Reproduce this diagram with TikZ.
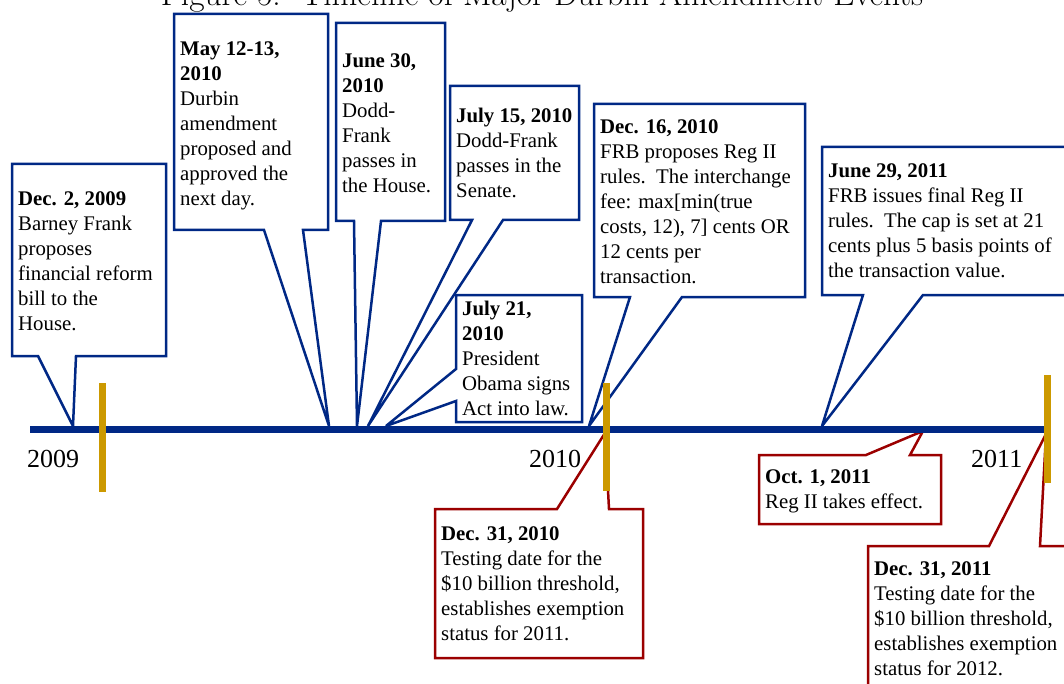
\documentclass[tikz,border=0pt]{standalone}
\usepackage{fontspec}
\newfontfamily\serifA{Liberation Serif}
\definecolor{tlblue}{RGB}{0,40,133}
\definecolor{tlred}{RGB}{155,0,0}
\definecolor{tlgold}{RGB}{204,153,0}
\newcommand{\calfont}{\serifA\fontsize{20.8}{25}\selectfont}
\newcommand{\yrfont}{\serifA\fontsize{26}{30}\selectfont}
\tikzset{
  bluecall/.style={draw=tlblue, line width=2.5pt, fill=white, miter limit=4},
  redcall/.style={draw=tlred, line width=2.5pt, fill=white, miter limit=4},
  calltext/.style={anchor=north west, inner sep=0pt, align=left, font=\calfont},
  yeartext/.style={anchor=base west, inner sep=0pt, font=\yrfont},
  axisline/.style={draw=tlblue, line width=7pt},
  yeartick/.style={draw=tlgold, line width=7pt},
}
\begin{document}
\begin{tikzpicture}[x=1pt,y=-1pt]
\useasboundingbox (0,0) rectangle (1064,684);
\clip (0,0) rectangle (1064,684);

% title
\node[anchor=base, inner sep=0pt] (title) at (542,6) {\fontsize{33.4}{38}\selectfont Figure 5:\ \ Timeline of Major Durbin Amendment Events};

% pointer tips on the timeline
\coordinate (p1) at (73,426);
\coordinate (p2) at (329,426);
\coordinate (p3) at (357,426);
\coordinate (p4) at (368,426);
\coordinate (p5) at (386,426);
\coordinate (p6) at (589,426);
\coordinate (p7) at (822,426);
\coordinate (q1) at (605,433);
\coordinate (q2) at (923,431);
\coordinate (q3) at (1046,434);

% blue callouts (above the line)
\path[bluecall] (12,164) -- (166,164) -- (166,356) -- (76,356) -- (p1) -- (38,356) -- (12,356) -- cycle;
\path[bluecall] (174,14) -- (328,14) -- (328,230) -- (303,230) -- (p2) -- (264,230) -- (174,230) -- cycle;
\path[bluecall] (336,23) -- (445,23) -- (445,221) -- (381,221) -- (p3) -- (354,221) -- (336,221) -- cycle;
\path[bluecall] (450,86) -- (579,86) -- (579,220) -- (503,220) -- (p4) -- (472,220) -- (450,220) -- cycle;
\path[bluecall] (456,295) -- (582,295) -- (582,422) -- (456,422) -- (456,401) -- (p5) -- (456,369) -- cycle;
\path[bluecall] (594,104) -- (805,104) -- (805,297) -- (682,297) -- (p6) -- (630,297) -- (594,297) -- cycle;
\path[bluecall] (822,147) -- (1090,147) -- (1090,295) -- (923,295) -- (p7) -- (863,295) -- (822,295) -- cycle;

% red callouts (below the line)
\path[redcall] (435,509) -- (557,509) -- (q1) -- (609,509) -- (643,509) -- (643,658) -- (435,658) -- cycle;
\path[redcall] (759,455) -- (866,455) -- (q2) -- (910,455) -- (941,455) -- (941,524) -- (759,524) -- cycle;
\path[redcall] (868,546) -- (989,546) -- (q3) -- (1040,546) -- (1090,546) -- (1090,720) -- (868,720) -- cycle;

% timeline
\coordinate (tl0) at (30,429);
\coordinate (tl1) at (1048,429);
\draw[axisline] (tl0) -- (tl1);

% year ticks
\coordinate (y9a) at (102,383); \coordinate (y9b) at (102,492);
\coordinate (y0a) at (606,383); \coordinate (y0b) at (606,491);
\coordinate (y1a) at (1047,375); \coordinate (y1b) at (1047,483);
\draw[yeartick] (y9a) -- (y9b);
\draw[yeartick] (y0a) -- (y0b);
\draw[yeartick] (y1a) -- (y1b);

% year labels
\node[yeartext] (yr9) at (27,467) {2009};
\node[yeartext] (yr0) at (529,467) {2010};
\node[yeartext] (yr1) at (971,467) {2011};

% callout texts
\node[calltext] (t1) at (18,187.5) {\strut\textbf{Dec. 2, 2009}\\Barney Frank\\proposes\\financial reform\\bill to the\\House.};
\node[calltext] (t2) at (180,37.5) {\strut\textbf{May 12-13,}\\\textbf{2010}\\Durbin\\amendment\\proposed and\\approved the\\next day.};
\node[calltext] (t3) at (342,49.5) {\strut\textbf{June 30,}\\\textbf{2010}\\Dodd-\\Frank\\passes in\\the House.};
\node[calltext] (t4) at (456,104.5) {\strut\textbf{July 15, 2010}\\Dodd-Frank\\passes in the\\Senate.};
\node[calltext] (t5) at (462,297.5) {\strut\textbf{July 21,}\\\textbf{2010}\\President\\Obama signs\\Act into law.};
\node[calltext] (t6) at (600,115.5) {\strut\textbf{Dec. 16, 2010}\\FRB proposes Reg II\\rules.\enspace The interchange\\fee: max[min(true\\costs, 12), 7] cents OR\\12 cents per\\transaction.};
\node[calltext] (t7) at (828,159.5) {\strut\textbf{June 29, 2011}\\FRB issues final Reg II\\rules.\enspace The cap is set at 21\\cents plus 5 basis points of\\the transaction value.};
\node[calltext] (t8) at (441,522.5) {\strut\textbf{Dec. 31, 2010}\\Testing date for the\\\$10 billion threshold,\\establishes exemption\\status for 2011.};
\node[calltext] (t9) at (765,465.5) {\strut\textbf{Oct. 1, 2011}\\Reg II takes effect.};
\node[calltext] (t10) at (874,557.5) {\strut\textbf{Dec. 31, 2011}\\Testing date for the\\\$10 billion threshold,\\establishes exemption\\status for 2012.};
\end{tikzpicture}
\end{document}
